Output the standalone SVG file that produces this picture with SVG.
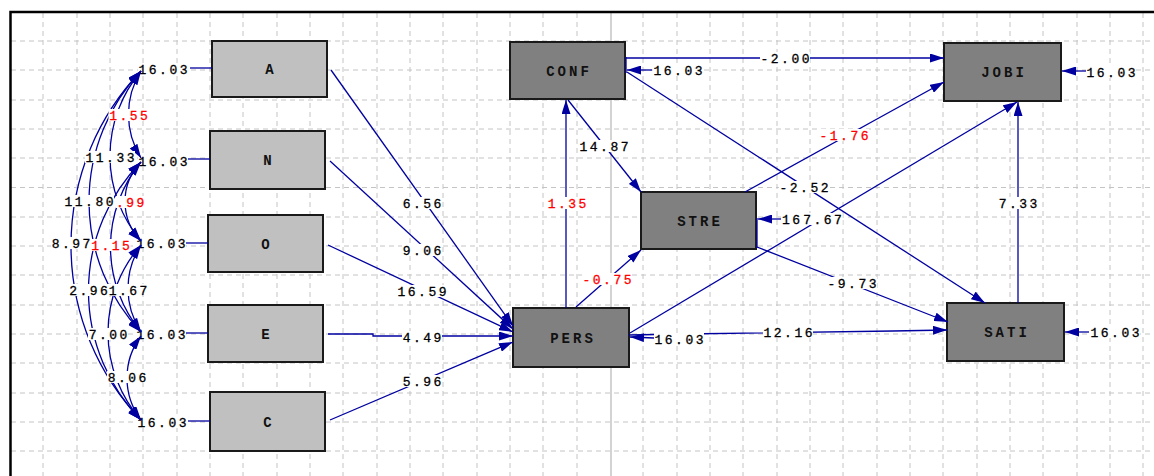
<svg xmlns="http://www.w3.org/2000/svg" width="1154" height="476" viewBox="0 0 1154 476">
<style>
.grid{stroke:#c4c4c4;stroke-width:1;stroke-dasharray:5 4;fill:none}
.lt{fill:#c0c0c0;stroke:#1a1a1a;stroke-width:2}
.dk{fill:#808080;stroke:#1a1a1a;stroke-width:2}
.nl{font-family:"Liberation Mono",monospace;font-size:14px;font-weight:bold;letter-spacing:3px;text-anchor:middle;fill:#111}
.c{stroke:#0000a0;stroke-width:1.3;fill:none}
.a{marker-end:url(#ah)}
.b{marker-start:url(#ah);marker-end:url(#ah)}
.t{font-family:"Liberation Mono",monospace;font-size:13px;letter-spacing:2.5px;text-anchor:middle;fill:#000;stroke:#000;stroke-width:0.3}
.r{fill:#ff0000;stroke:#ff0000}
.bg{fill:#ffffff}
</style>
<defs>
<marker id="ah" viewBox="0 0 14 9" refX="14" refY="4.5" markerWidth="14" markerHeight="9" markerUnits="userSpaceOnUse" orient="auto-start-reverse">
<path d="M0,0 L14,4.5 L0,9 z" fill="#0000a0"/>
</marker>
</defs>
<rect x="0" y="0" width="1154" height="476" fill="#ffffff"/>
<g id="grid">
<path class="grid" d="M11 41H1154M11 70H1154M11 100H1154M11 129H1154M11 158H1154M11 187.5H1154M11 217H1154M11 246H1154M11 275H1154M11 305H1154M11 334H1154M11 363H1154M11 393H1154M11 422H1154M11 451H1154"/>
<path class="grid" d="M43 13V476M77 13V476M110 13V476M143 13V476M177 13V476M210 13V476M243 13V476M277 13V476M310 13V476M343 13V476M377 13V476M410 13V476M443 13V476M477 13V476M510 13V476M543 13V476M577 13V476M643 13V476M677 13V476M710 13V476M743 13V476M777 13V476M810 13V476M843 13V476M877 13V476M910 13V476M943 13V476M977 13V476M1010 13V476M1043 13V476M1077 13V476M1110 13V476M1143 13V476"/>
<line x1="611" y1="13" x2="611" y2="476" stroke="#c4c4c4" stroke-width="1.5"/>
<path d="M10.5 476V12H1154" fill="none" stroke="#000" stroke-width="2.5"/>
</g>
<g id="node-A"><rect class="lt" x="212" y="41" width="115" height="56"/><text class="nl" x="271" y="74">A</text></g>
<g id="node-N"><rect class="lt" x="210" y="131" width="115" height="58"/><text class="nl" x="269" y="165">N</text></g>
<g id="node-O"><rect class="lt" x="208" y="215" width="115" height="57"/><text class="nl" x="267" y="248.5">O</text></g>
<g id="node-E"><rect class="lt" x="208" y="305" width="115" height="57"/><text class="nl" x="267" y="338.5">E</text></g>
<g id="node-C"><rect class="lt" x="210" y="392" width="115" height="59"/><text class="nl" x="269" y="426.5">C</text></g>
<g id="node-CONF"><rect class="dk" x="510" y="42" width="115" height="57"/><text class="nl" x="569" y="75.5">CONF</text></g>
<g id="node-STRE"><rect class="dk" x="641" y="192" width="115" height="57"/><text class="nl" x="700" y="225.5">STRE</text></g>
<g id="node-PERS"><rect class="dk" x="513" y="308" width="116" height="59"/><text class="nl" x="573" y="342.5">PERS</text></g>
<g id="node-JOBI"><rect class="dk" x="944" y="43" width="117" height="58"/><text class="nl" x="1004" y="77">JOBI</text></g>
<g id="node-SATI"><rect class="dk" x="947" y="303" width="117" height="58"/><text class="nl" x="1007" y="337">SATI</text></g>
<g id="error-labels-left">
<rect class="bg" x="138" y="63" width="50" height="12"/><text class="t" x="164.25" y="73.5">16.03</text>
<rect class="bg" x="138" y="155" width="50" height="12"/><text class="t" x="164.25" y="165.5">16.03</text>
<rect class="bg" x="136" y="237" width="50" height="12"/><text class="t" x="162.25" y="247.5">16.03</text>
<rect class="bg" x="136" y="328" width="50" height="12"/><text class="t" x="162.25" y="338.5">16.03</text>
<rect class="bg" x="137" y="416" width="50" height="12"/><text class="t" x="163.25" y="426.5">16.03</text>
</g>
<g id="connectors">
<line class="c" x1="190" y1="68" x2="212" y2="68"/>
<line class="c" x1="188" y1="159" x2="210" y2="159"/>
<line class="c" x1="186" y1="243" x2="208" y2="243"/>
<line class="c" x1="186" y1="333" x2="208" y2="333"/>
<line class="c" x1="188" y1="421" x2="210" y2="421"/>
<path class="c b" d="M141 71A81.9 81.9 0 0 0 141 158"/>
<path class="c b" d="M141 71A132 132 0 0 0 141 241"/>
<path class="c b" d="M141 71A189.8 189.8 0 0 0 141 332"/>
<path class="c b" d="M141 71A252.5 252.5 0 0 0 141 420"/>
<path class="c b" d="M141 162A56.8 56.8 0 0 0 141 241"/>
<path class="c b" d="M141 162A133.7 133.7 0 0 0 141 332"/>
<path class="c b" d="M141 162A184.7 184.7 0 0 0 141 420"/>
<path class="c b" d="M141 245A79.3 79.3 0 0 0 141 332"/>
<path class="c b" d="M141 245A132.5 132.5 0 0 0 141 420"/>
<path class="c b" d="M141 336A70 70 0 0 0 141 420"/>
<line class="c a" x1="331" y1="70" x2="513" y2="326"/>
<line class="c a" x1="330" y1="161" x2="513" y2="329"/>
<line class="c a" x1="328" y1="245" x2="513" y2="332"/>
<polyline class="c a" points="328,334 373,334 373,336 513,336"/>
<line class="c a" x1="330" y1="420" x2="513" y2="342"/>
<line class="c a" x1="566" y1="308" x2="566" y2="100"/>
<line class="c a" x1="568" y1="100" x2="641" y2="192"/>
<line class="c a" x1="576" y1="307" x2="641" y2="250"/>
<line class="c a" x1="626" y1="58" x2="944" y2="58"/>
<line class="c" x1="626" y1="57" x2="626" y2="73"/>
<line class="c a" x1="627" y1="72" x2="985" y2="303"/>
<line class="c a" x1="745" y1="192" x2="944" y2="82"/>
<line class="c a" x1="630" y1="333" x2="1017" y2="102"/>
<polyline class="c a" points="629,335 683,334 893,331 947,330"/>
<line class="c a" x1="757" y1="247" x2="948" y2="322"/>
<line class="c" x1="757" y1="218" x2="757" y2="248" stroke-width="2.5"/>
<line class="c a" x1="1018" y1="303" x2="1018" y2="102"/>
<line class="c a" x1="652" y1="70" x2="627" y2="70" stroke-width="2"/>
<line class="c a" x1="654" y1="338" x2="630" y2="337" stroke-width="2"/>
<line class="c a" x1="781" y1="219" x2="758" y2="219" stroke-width="2"/>
<line class="c a" x1="1086" y1="71" x2="1062" y2="71" stroke-width="2"/>
<line class="c a" x1="1089" y1="332" x2="1065" y2="332" stroke-width="2"/>
</g>
<g id="labels">
<rect class="bg" x="108.5" y="109" width="40" height="12"/><text class="t r" x="129.75" y="119.5">1.55</text>
<rect class="bg" x="85" y="151" width="50" height="12"/><text class="t" x="111.25" y="161.5">11.33</text>
<rect class="bg" x="64" y="195" width="50" height="12"/><text class="t" x="90.25" y="205.5">11.80</text>
<rect class="bg" x="116" y="196" width="30" height="12"/><text class="t r" x="131.4" y="206.5">.99</text>
<rect class="bg" x="51" y="237" width="40" height="12"/><text class="t" x="72.25" y="247.5">8.97</text>
<rect class="bg" x="90.5" y="239" width="40" height="12"/><text class="t r" x="111.75" y="249.5">1.15</text>
<rect class="bg" x="68.5" y="284" width="40" height="12"/><text class="t" x="89.75" y="294.5">2.96</text>
<rect class="bg" x="108" y="284" width="40" height="12"/><text class="t" x="129.25" y="294.5">1.67</text>
<rect class="bg" x="88" y="328" width="40" height="12"/><text class="t" x="109.25" y="338.5">7.00</text>
<rect class="bg" x="107" y="371" width="40" height="12"/><text class="t" x="128.25" y="381.5">8.06</text>
<rect class="bg" x="402" y="197" width="40" height="12"/><text class="t" x="423.25" y="207.5">6.56</text>
<rect class="bg" x="402" y="244" width="40" height="12"/><text class="t" x="423.25" y="254.5">9.06</text>
<rect class="bg" x="397" y="285" width="50" height="12"/><text class="t" x="423.25" y="295.5">16.59</text>
<rect class="bg" x="402" y="331" width="40" height="12"/><text class="t" x="423.25" y="341.5">4.49</text>
<rect class="bg" x="402" y="375" width="40" height="12"/><text class="t" x="423.25" y="385.5">5.96</text>
<rect class="bg" x="547" y="197" width="40" height="12"/><text class="t r" x="568.25" y="207.5">1.35</text>
<rect class="bg" x="579" y="140" width="50" height="12"/><text class="t" x="605.25" y="150.5">14.87</text>
<rect class="bg" x="582" y="273" width="50" height="12"/><text class="t r" x="608.25" y="283.5">-0.75</text>
<rect class="bg" x="760" y="52" width="50" height="12"/><text class="t" x="786.25" y="62.5">-2.00</text>
<rect class="bg" x="653" y="64" width="50" height="12"/><text class="t" x="679.25" y="74.5">16.03</text>
<rect class="bg" x="779" y="181" width="50" height="12"/><text class="t" x="805.25" y="191.5">-2.52</text>
<rect class="bg" x="819" y="129" width="50" height="12"/><text class="t r" x="845.25" y="139.5">-1.76</text>
<rect class="bg" x="781.5" y="213" width="20" height="12"/><text class="t" x="792.3" y="223.5">16</text>
<rect class="bg" x="802.5" y="213" width="40" height="12"/><text class="t" x="823.75" y="223.5">7.67</text>
<rect class="bg" x="763" y="326" width="50" height="12"/><text class="t" x="789.25" y="336.5">12.16</text>
<rect class="bg" x="654" y="333" width="50" height="12"/><text class="t" x="680.25" y="343.5">16.03</text>
<rect class="bg" x="827" y="277" width="50" height="12"/><text class="t" x="853.25" y="287.5">-9.73</text>
<rect class="bg" x="998" y="197" width="40" height="12"/><text class="t" x="1019.25" y="207.5">7.33</text>
<rect class="bg" x="1086" y="66" width="50" height="12"/><text class="t" x="1112.25" y="76.5">16.03</text>
<rect class="bg" x="1090" y="326" width="50" height="12"/><text class="t" x="1116.25" y="336.5">16.03</text>
</g>
</svg>
